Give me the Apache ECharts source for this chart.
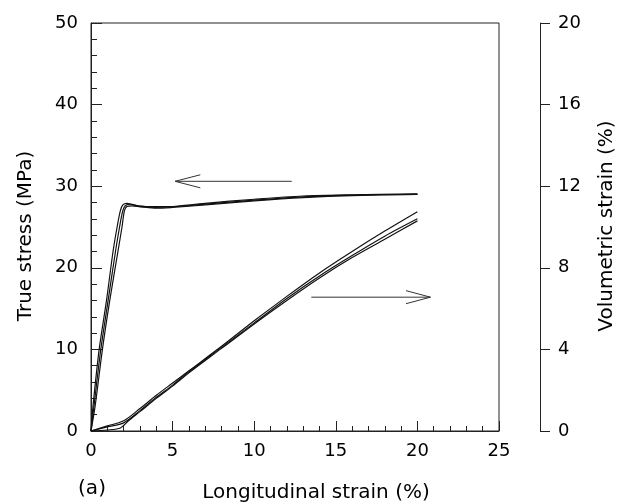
<!DOCTYPE html>
<html><head><meta charset="utf-8">
<script src="https://cdn.jsdelivr.net/npm/echarts@6/dist/echarts.min.js"></script>
<style>html,body{margin:0;padding:0;background:#fff}#c{width:618px;height:504px}</style>
</head><body><div id="c"></div>
<script>
// Longitudinal strain (%) vs true stress (MPa) – three specimens
const stress1 = [[0,0],[0.12,3],[0.5,10],[0.95,16],[1.35,22],[1.6,25],[1.8,27],[1.95,27.7],[2.2,27.9],[2.6,27.7],[3.5,27.5],[5,27.5],[7,27.8],[10,28.3],[13,28.7],[16,28.9],[20,29.0]];
const stress2 = [[0,0],[0.18,3],[0.6,10],[1.05,16],[1.5,22],[1.75,25],[1.95,27],[2.1,27.6],[2.4,27.8],[3,27.5],[4,27.4],[5,27.5],[7,27.9],[10,28.4],[13,28.8],[16,28.95],[20,29.05]];
const stress3 = [[0,0],[0.25,3],[0.7,10],[1.15,16],[1.65,22],[1.9,25],[2.05,27],[2.2,27.5],[2.5,27.6],[3,27.5],[4,27.3],[5,27.4],[7,27.7],[10,28.2],[13,28.6],[16,28.85],[20,29.0]];
// Longitudinal strain (%) vs volumetric strain (%)
const vol1 = [[0,0],[1,0.25],[2,0.5],[3,1.1],[4,1.75],[5,2.35],[6,2.95],[8,4.15],[10,5.4],[12,6.6],[14,7.75],[16,8.8],[18,9.8],[20,10.75]];
const vol2 = [[0,0],[1,0.2],[2,0.4],[3,1.0],[4,1.65],[5,2.25],[6,2.9],[8,4.1],[10,5.3],[12,6.5],[14,7.6],[16,8.6],[18,9.55],[20,10.4]];
const vol3 = [[0,0],[1,0.05],[1.8,0.15],[2.3,0.5],[3,0.95],[4,1.6],[5,2.2],[6,2.85],[8,4.05],[10,5.25],[12,6.4],[14,7.5],[16,8.5],[18,9.4],[20,10.3]];
// Annotation arrows (in stress-axis coordinates)
const arrowLeftShaft = [[12.3,30.6],[5.15,30.6]];
const arrowLeftHead = [[6.7,31.4],[5.15,30.6],[6.7,29.8]];
const arrowRightShaft = [[13.5,16.4],[20.8,16.4]];
const arrowRightHead = [[19.3,17.2],[20.8,16.4],[19.3,15.6]];
// Axis ticks
const xTicks = {min:0, max:25, interval:5};
const yLeftTicks = {min:0, max:50, interval:10};
const yRightTicks = {min:0, max:20, interval:4};

const FONT = 'DejaVu Sans';
const INK = '#000';
const chart = echarts.init(document.getElementById('c'), null, {renderer:'canvas'});
function line(data, yIdx, w){
  return {type:'line', data:data, yAxisIndex:yIdx, showSymbol:false, symbol:'none', smooth:0.3,
    lineStyle:{color:'#111', width:w||1.2}, silent:true, z:3};
}
function seg(data){
  return {type:'line', data:data, yAxisIndex:0, showSymbol:false, symbol:'none', smooth:false,
    lineStyle:{color:'#333', width:1}, silent:true, z:3};
}
const TF = '20px "DejaVu Sans"';
chart.setOption({
  animation:false,
  backgroundColor:'#fff',
  grid:{left:91, top:23, right:119, bottom:73, show:true, borderColor:'#222', borderWidth:1, containLabel:false},
  xAxis:{type:'value', min:xTicks.min, max:xTicks.max, interval:xTicks.interval,
    axisLine:{show:true, lineStyle:{color:'#222', width:1}},
    axisTick:{show:true, inside:true, length:10, lineStyle:{color:'#222'}},
    minorTick:{show:true, splitNumber:5, length:5, lineStyle:{color:'#222'}},
    splitLine:{show:false},
    axisLabel:{color:INK, fontFamily:FONT, fontSize:18, margin:11}},
  yAxis:[
    {type:'value', position:'left', min:yLeftTicks.min, max:yLeftTicks.max, interval:yLeftTicks.interval,
      axisLine:{show:true, lineStyle:{color:'#222', width:1}},
      axisTick:{show:true, inside:true, length:11, lineStyle:{color:'#222'}},
      minorTick:{show:true, splitNumber:5, length:6, lineStyle:{color:'#222'}},
      splitLine:{show:false},
      axisLabel:{color:INK, fontFamily:FONT, fontSize:18, margin:13}},
    {type:'value', position:'right', offset:41, min:yRightTicks.min, max:yRightTicks.max, interval:yRightTicks.interval,
      axisLine:{show:true, onZero:false, lineStyle:{color:'#222', width:1}},
      axisTick:{show:true, inside:false, length:10, lineStyle:{color:'#222'}},
      splitLine:{show:false},
      axisLabel:{color:INK, fontFamily:FONT, fontSize:18, margin:18}}
  ],
  graphic:[
    {type:'text', style:{text:'True stress (MPa)', font:TF, fill:INK, align:'center', verticalAlign:'middle'}, x:26, y:236, rotation:Math.PI/2},
    {type:'text', style:{text:'Volumetric strain (%)', font:TF, fill:INK, align:'center', verticalAlign:'middle'}, x:607, y:226, rotation:Math.PI/2},
    {type:'text', style:{text:'Longitudinal strain (%)', font:TF, fill:INK, align:'center', verticalAlign:'middle'}, x:316, y:493},
    {type:'text', style:{text:'(a)', font:TF, fill:INK, align:'center', verticalAlign:'middle'}, x:92, y:489}
  ],
  series:[
    line(stress1,0), line(stress2,0), line(stress3,0),
    line(vol1,1), line(vol2,1), line(vol3,1),
    seg(arrowLeftShaft), seg(arrowLeftHead), seg(arrowRightShaft), seg(arrowRightHead)
  ]
});
</script></body></html>
